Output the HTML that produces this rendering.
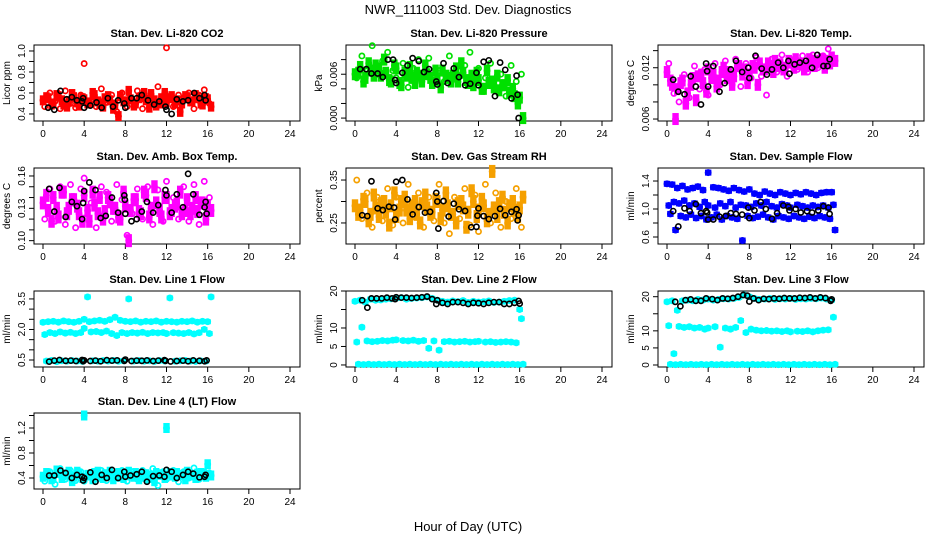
<!DOCTYPE html>
<html><head><meta charset="utf-8">
<style>
html,body{margin:0;padding:0;background:#fff;}
svg{display:block;font-family:"Liberation Sans",sans-serif;}
</style></head>
<body>
<svg id="chart" width="936" height="540" viewBox="0 0 936 540">
<text x="468" y="14" text-anchor="middle" font-size="13">NWR_111003  Std. Dev. Diagnostics</text>
<text x="468" y="531" text-anchor="middle" font-size="13">Hour of Day (UTC)</text>
</svg>
<script>
const hoursA = [0.0,0.5,1.0,1.5,2.0,2.5,3.0,3.5,4.0,4.5,5.0,5.5,6.0,6.5,7.0,7.5,8.0,8.5,9.0,9.5,10.0,10.5,11.0,11.5,12.0,12.5,13.0,13.5,14.0,14.5,15.0,15.5,16.0];
const hoursB = [0.17,0.67,1.17,1.67,2.17,2.67,3.17,3.67,4.0,4.67,5.17,5.67,6.17,6.67,7.17,7.67,8.17,8.67,9.17,9.67,10.17,10.67,11.17,11.67,12.0,12.67,13.17,13.67,14.17,14.67,15.17,15.67,16.17];
const hoursC = [0.33,0.83,1.33,1.83,2.33,2.83,3.33,3.83,4.33,4.83,5.33,5.83,6.33,6.83,7.33,7.83,8.33,8.83,9.33,9.83,10.33,10.83,11.33,11.83,12.33,12.83,13.33,13.83,14.33,14.83,15.33,15.83,16.33];
const xTicks = [0,4,8,12,16,20,24];

// CO2
const co2A = [.53,.55,.50,.57,.49,.52,.56,.48,.54,.51,.58,.50,.55,.53,.49,.57,.52,.54,.50,.56,.53,.59,.48,.55,.51,.57,.53,.50,.56,.52,.55,.49,.54];
const co2B = [.47,.60,.52,.45,.62,.50,.46,.58,.88,.53,.47,.64,.51,.58,.42,.60,.47,.52,.62,.45,.55,.50,.66,.52,1.03,.47,.58,.55,.60,.45,.58,.63,.50];
const co2C = [.56,.49,.58,.53,.47,.59,.51,.55,.50,.60,.52,.47,.57,.45,.38,.52,.62,.48,.55,.60,.46,.53,.50,.60,.55,.50,.42,.57,.52,.58,.50,.55,.47];
const co2BlkX = [.5,1.1,1.7,2.3,2.8,3.3,3.8,3.9,4.0,4.6,5.2,5.7,6.3,6.8,7.3,7.9,8.0,8.6,9.1,9.6,10.2,10.8,11.3,11.9,12.0,12.5,13.0,13.6,14.1,14.7,15.2,15.7,15.8];
const co2BlkY = [.46,.44,.62,.54,.56,.53,.52,.55,.46,.48,.51,.46,.55,.47,.53,.50,.46,.55,.55,.58,.53,.49,.52,.47,.44,.40,.54,.52,.53,.60,.55,.58,.53];
// Pressure
const presA = [.0060,.0070,.0055,.0065,.0072,.0058,.0062,.0050,.0068,.0045,.0058,.0055,.0062,.0050,.0060,.0048,.0052,.0065,.0055,.0058,.0050,.0062,.0048,.0045,.0052,.0040,.0048,.0042,.0038,.0045,.0035,.0030,.0028];
const presB = [.0055,.0085,.0065,.0099,.0060,.0078,.0090,.0065,.0055,.0075,.0042,.0068,.0080,.0060,.0082,.0055,.0065,.0050,.0085,.0062,.0058,.0072,.0090,.0050,.0068,.0055,.0075,.0042,.0060,.0030,.0072,.0050,.0060];
const presC = [.0062,.0050,.0075,.0058,.0068,.0080,.0052,.0072,.0048,.0062,.0070,.0048,.0058,.0072,.0055,.0065,.0042,.0058,.0050,.0068,.0075,.0052,.0058,.0062,.0040,.0065,.0050,.0058,.0045,.0052,.0040,.0020,.0000];
const presBlkX = [.5,1.1,1.6,2.2,2.7,3.2,3.7,3.9,4.0,4.6,5.1,5.6,6.2,6.7,7.2,7.9,8.0,8.6,9.0,9.6,10.1,10.7,11.2,11.8,12.0,12.5,13.0,13.6,14.1,14.6,15.2,15.7,15.8,15.9];
const presBlkY = [.0067,.0067,.0061,.0061,.0056,.0080,.0080,.0052,.0048,.0062,.0072,.0082,.0078,.0063,.0067,.0050,.0046,.0075,.0048,.0068,.0056,.0045,.0047,.0062,.0045,.0077,.0079,.0030,.0076,.0066,.0027,.0058,.0032,.0000];
// Li-820 temp
const ltA = [.0115,.0100,.0095,.0105,.0090,.0108,.0110,.0102,.0118,.0112,.0105,.0120,.0115,.0110,.0122,.0118,.0112,.0120,.0125,.0118,.0122,.0128,.0124,.0120,.0126,.0130,.0125,.0122,.0128,.0126,.0130,.0128,.0132];
const ltB = [.0125,.0090,.0080,.0112,.0085,.0122,.0095,.0118,.0088,.0125,.0100,.0128,.0105,.0130,.0098,.0125,.0108,.0132,.0110,.0088,.0130,.0115,.0135,.0110,.0130,.0118,.0134,.0115,.0135,.0120,.0134,.0142,.0125];
const ltC = [.0105,.0060,.0102,.0078,.0100,.0082,.0112,.0092,.0108,.0098,.0115,.0108,.0100,.0122,.0112,.0102,.0122,.0100,.0118,.0125,.0115,.0122,.0118,.0128,.0120,.0124,.0118,.0130,.0122,.0128,.0120,.0125,.0128];
const ltBlkX = [.6,1.1,1.7,2.3,2.8,3.3,3.8,3.9,4.0,4.5,5.1,5.6,6.2,6.7,7.3,7.9,8.0,8.6,9.2,9.7,10.2,10.8,11.3,11.8,11.9,12.4,12.9,13.5,14.1,14.6,15.2,15.6,15.8];
const ltBlkY = [.0106,.0092,.0089,.0110,.0098,.0077,.0125,.0116,.0098,.0122,.0092,.0102,.0118,.0128,.0115,.0120,.0108,.0134,.0119,.0112,.0118,.0126,.0120,.0128,.0113,.0124,.0126,.0128,.0120,.0135,.0122,.0122,.0130];
// Amb box temp
const abA = [.135,.128,.140,.122,.145,.130,.138,.125,.142,.118,.133,.140,.127,.136,.130,.120,.132,.128,.138,.125,.142,.130,.135,.122,.140,.128,.134,.125,.138,.130,.127,.135,.132];
const abB = [.120,.148,.118,.150,.115,.152,.112,.148,.158,.135,.112,.150,.145,.118,.152,.138,.105,.125,.148,.120,.150,.115,.147,.118,.155,.140,.120,.150,.118,.152,.115,.155,.140];
const abC = [.142,.118,.130,.145,.125,.138,.132,.118,.128,.145,.125,.120,.140,.130,.122,.145,.100,.138,.127,.145,.122,.150,.128,.140,.125,.132,.145,.128,.125,.140,.135,.120,.128];
const abBlkX = [.6,1.1,1.6,2.2,2.8,3.3,3.8,3.9,4.0,4.5,5.1,5.6,6.1,6.7,7.3,7.9,7.95,8.0,8.6,9.1,9.6,10.1,10.7,11.2,11.9,12.0,12.5,13.0,13.6,14.1,14.6,15.2,15.7,15.8,15.9];
const abBlkY = [.148,.127,.149,.122,.136,.132,.120,.135,.146,.154,.147,.121,.123,.140,.126,.142,.138,.125,.118,.120,.127,.136,.126,.133,.147,.142,.126,.143,.131,.162,.143,.124,.131,.136,.125];
// Gas stream RH
const rhA = [.290,.280,.300,.270,.285,.295,.275,.290,.265,.300,.280,.290,.270,.295,.285,.275,.300,.280,.290,.270,.295,.285,.275,.300,.280,.290,.270,.285,.295,.275,.290,.280,.285];
const rhB = [.350,.260,.320,.240,.310,.255,.330,.245,.310,.250,.340,.265,.320,.240,.310,.255,.340,.250,.225,.310,.260,.330,.245,.315,.230,.340,.250,.320,.240,.300,.260,.330,.240];
const rhC = [.270,.305,.255,.315,.265,.300,.245,.320,.280,.310,.260,.300,.250,.315,.270,.305,.260,.320,.270,.250,.300,.240,.325,.265,.305,.255,.370,.265,.310,.250,.300,.265,.310];
const rhBlkX = [.7,1.2,1.6,2.2,2.7,3.3,3.8,3.9,4.0,4.6,5.1,5.6,6.2,6.8,7.3,7.9,8.0,8.1,8.6,9.1,9.6,10.1,10.7,11.3,11.8,11.9,12.0,12.5,13.0,13.6,14.1,14.6,15.2,15.7,15.8,15.9];
const rhBlkY = [.268,.266,.347,.284,.280,.288,.286,.258,.346,.350,.305,.270,.287,.274,.276,.320,.300,.237,.301,.265,.295,.282,.278,.240,.241,.267,.284,.266,.259,.266,.283,.268,.276,.282,.256,.268];
// Sample flow
const sfA = [1.36,1.35,1.30,1.33,1.28,1.30,1.32,1.27,1.52,1.31,1.30,1.28,1.26,1.30,1.27,1.25,1.28,1.22,1.20,1.25,1.22,1.20,1.24,1.22,1.20,1.23,1.21,1.24,1.22,1.20,1.23,1.24,1.24];
const sfB = [1.05,1.10,1.08,1.12,1.05,1.08,1.03,1.10,1.05,1.02,1.08,1.04,1.10,1.02,1.06,1.05,1.03,1.08,1.05,1.10,1.04,1.02,1.07,1.05,1.02,1.06,1.04,1.02,1.05,1.03,1.05,1.02,1.06];
const sfC = [.93,.70,.90,.88,.92,.87,.90,.85,.88,.92,.85,.90,.88,.86,.55,.90,.87,.89,.92,.88,.85,.90,.88,.86,.90,.88,.86,.89,.87,.90,.88,.86,.70];
const sfBlkX = [.6,1.1,1.7,2.2,2.8,3.3,3.8,3.9,4.0,4.5,5.1,5.7,6.2,6.7,7.3,7.9,8.0,8.5,9.1,9.6,10.2,10.7,11.3,11.8,11.9,12.5,13.0,13.6,14.1,14.7,15.2,15.7,15.8];
const sfBlkY = [.97,.75,1.01,.97,1.07,.94,.97,.95,.85,.85,.89,.90,.94,.93,.92,1.02,.87,.98,1.10,1.00,.86,.94,1.05,1.03,.98,1.00,.95,.97,.95,.98,1.04,1.02,.93];
// Line 1
const l1A = [2.35,2.38,2.40,2.36,2.42,2.38,2.35,2.40,2.50,2.38,2.42,2.45,2.40,2.48,2.60,2.45,2.40,2.38,2.42,2.36,2.40,2.38,2.42,2.36,2.40,2.38,2.36,2.40,2.38,2.42,2.36,2.40,2.38];
const l1B = [1.75,1.85,1.80,1.88,1.82,1.86,1.80,1.85,2.05,1.88,1.90,1.85,1.92,1.80,1.70,1.85,1.80,1.85,1.82,1.86,1.80,1.85,1.83,1.85,1.80,1.84,1.82,1.80,1.85,1.78,1.84,2.00,1.80];
const l1C = [.45,.48,.42,.46,.44,.47,.45,.43,3.60,.46,.44,.47,.45,.48,.44,.46,3.50,.45,.47,.44,.46,.43,.47,.45,3.55,.44,.46,.48,.45,.43,.46,.44,3.60];
const l1BlkX = [.6,1.1,1.6,2.2,2.7,3.2,3.8,3.9,4.0,4.6,5.1,5.6,6.2,6.7,7.2,7.9,8.0,8.6,9.1,9.6,10.1,10.7,11.2,11.8,11.9,12.4,13.0,13.6,14.1,14.6,15.2,15.7,15.9];
const l1BlkY = [.42,.47,.50,.46,.47,.45,.50,.44,.48,.45,.47,.44,.49,.47,.48,.46,.52,.45,.47,.46,.48,.45,.47,.49,.46,.43,.45,.47,.44,.48,.46,.44,.48];
// Line 2
const l2A = [17.2,17.5,17.0,17.8,17.5,17.6,17.8,17.9,18.0,18.2,17.8,18.0,18.1,18.2,18.4,18.0,17.5,17.2,17.0,17.3,17.1,17.4,16.9,17.2,17.0,17.1,17.3,16.9,17.0,17.2,17.4,17.5,15.0];
const l2B = [6.2,10.2,6.5,6.3,6.4,6.6,6.5,6.7,6.8,6.6,6.5,6.7,6.4,6.6,4.5,6.5,4.0,6.3,6.4,6.2,6.3,6.4,6.2,6.3,6.4,6.2,6.3,6.1,6.2,6.3,6.2,6.0,12.5];
const l2C = [.2,.1,.2,.1,.2,.1,.2,.1,.2,.1,.2,.1,.2,.1,.2,.1,.2,.1,.2,.1,.2,.1,.2,.1,.2,.1,.2,.1,.2,.1,.2,.1,.2];
const l2BlkX = [.7,1.2,1.6,2.1,2.6,3.1,3.6,3.9,4.0,4.5,5.0,5.5,6.0,6.5,7.0,7.5,7.9,8.0,8.5,9.0,9.5,10.0,10.5,11.0,11.5,12.0,12.5,13.0,13.5,14.0,14.5,15.0,15.5,15.9,16.0];
const l2BlkY = [17.5,15.5,18.0,18.0,18.0,18.2,18.0,17.8,18.3,18.2,18.2,18.1,18.2,18.3,18.5,17.8,16.5,17.5,16.8,16.5,17.0,17.0,16.8,16.5,16.8,16.7,16.5,16.8,17.0,17.0,16.5,16.5,16.8,17.3,16.6];
// Line 3
const l3A = [18.5,18.8,16.0,18.8,19.0,18.8,19.2,19.0,19.3,19.0,19.2,19.4,19.3,19.5,19.8,20.5,20.0,19.5,19.2,19.3,19.5,19.2,19.4,19.3,19.5,19.2,19.4,19.3,19.5,19.4,19.6,19.3,19.0];
const l3B = [11.5,3.3,11.3,11.0,11.2,10.8,11.0,10.5,10.8,11.2,5.2,10.8,10.5,11.0,13.0,9.5,10.5,10.2,10.0,10.1,9.9,10.0,9.8,10.0,9.7,9.9,9.8,10.0,9.7,10.0,10.2,10.3,14.0];
const l3C = [.2,.1,.2,.1,.2,.1,.2,.1,.2,.1,.2,.1,.2,.1,.2,.1,.2,.1,.2,.1,.2,.1,.2,.1,.2,.1,.2,.1,.2,.1,.2,.1,.2];
const l3BlkX = [.8,1.3,1.8,2.3,2.8,3.3,3.8,4.4,4.9,5.4,5.9,6.4,6.9,7.4,7.8,8.0,8.4,8.9,9.4,9.9,10.4,10.9,11.4,11.9,12.4,12.9,13.4,13.9,14.4,14.9,15.4,15.9,16.0];
const l3BlkY = [18.5,17.2,19.0,19.2,18.8,18.8,19.5,19.3,19.0,19.5,19.4,19.6,20.0,20.5,20.3,18.6,19.5,19.0,19.4,19.3,19.5,19.4,19.6,19.5,19.5,19.7,19.6,19.8,19.5,19.8,19.6,18.8,19.2];
// Line 4
const l4A = [.42,.45,.40,.48,.44,.50,.42,.46,1.40,.44,.48,.42,.46,.50,.44,.42,.47,.44,.48,.42,.46,.44,.48,.46,1.20,.44,.48,.45,.50,.44,.47,.45,.62];
const l4B = [.35,.50,.30,.55,.38,.52,.36,.50,.35,.48,.38,.52,.36,.48,.40,.52,.35,.50,.38,.52,.36,.55,.28,.50,.38,.52,.34,.50,.40,.56,.38,.50,.48];
const l4C = [.48,.38,.52,.40,.46,.35,.50,.40,.45,.38,.50,.40,.45,.38,.48,.40,.50,.42,.38,.46,.40,.35,.45,.40,.48,.42,.45,.38,.44,.40,.48,.42,.44];
const l4BlkX = [.6,1.1,1.7,2.2,2.8,3.3,3.8,3.9,4.0,4.6,5.1,5.7,6.2,6.7,7.3,7.9,8.0,8.5,9.1,9.6,10.1,10.7,11.3,11.8,12.0,12.5,13.0,13.6,14.1,14.6,15.2,15.7,15.8];
const l4BlkY = [.44,.44,.52,.48,.40,.45,.42,.36,.40,.49,.34,.45,.40,.53,.40,.50,.42,.44,.46,.50,.34,.43,.44,.42,.53,.50,.40,.45,.50,.47,.41,.42,.45];

const panels = [
 {name:'co2',title:'Stan. Dev. Li-820 CO2',ylab:'Licor ppm',col:0,row:0,ylim:[0.333,1.057],color:'#ff0000',series:[co2A,co2B,co2C],band:[0,2],bandH:10,bx:co2BlkX,by:co2BlkY,ticks:[.4,.5,.6,.7,.8,.9,1.0],labels:[.4,.6,.8,1.0],dec:1},
 {name:'pressure',title:'Stan. Dev. Li-820 Pressure',ylab:'kPa',col:1,row:0,ylim:[-0.0004,0.0100],color:'#00e000',series:[presA,presB,presC],band:[0,2],bandH:12,bx:presBlkX,by:presBlkY,ticks:[0,.002,.004,.006,.008],labels:[0,.006],dec:3},
 {name:'li-temp',title:'Stan. Dev. Li-820 Temp.',ylab:'degrees C',col:2,row:0,ylim:[0.00577,0.01466],color:'#ff00ff',series:[ltA,ltB,ltC],band:[0,2],bandH:12,bx:ltBlkX,by:ltBlkY,ticks:[.006,.008,.010,.012,.014],labels:[.006,.012],dec:3},
 {name:'amb-temp',title:'Stan. Dev. Amb. Box Temp.',ylab:'degrees C',col:0,row:1,ylim:[0.0969,0.1674],color:'#ff00ff',series:[abA,abB,abC],band:[0,2],bandH:13,bx:abBlkX,by:abBlkY,ticks:[.10,.11,.12,.13,.14,.15,.16],labels:[.10,.13,.16],dec:2},
 {name:'gas-rh',title:'Stan. Dev. Gas Stream RH',ylab:'percent',col:1,row:1,ylim:[0.201,0.378],color:'#f5a000',series:[rhA,rhB,rhC],band:[0,2],bandH:13,bx:rhBlkX,by:rhBlkY,ticks:[.25,.30,.35],labels:[.25,.35],dec:2},
 {name:'sample-flow',title:'Stan. Dev. Sample Flow',ylab:'ml/min',col:2,row:1,ylim:[0.50,1.586],color:'#0000ff',series:[sfA,sfB,sfC],band:[0,1,2],bandH:6,bx:sfBlkX,by:sfBlkY,ticks:[.6,.8,1.0,1.2,1.4],labels:[.6,1.0,1.4],dec:1},
 {name:'line1-flow',title:'Stan. Dev. Line 1 Flow',ylab:'ml/min',col:0,row:2,ylim:[0.156,3.89],color:'#00ffff',series:[l1A,l1B,l1C],band:[0,1,2],bandH:5,bx:l1BlkX,by:l1BlkY,ticks:[.5,1.0,1.5,2.0,2.5,3.0,3.5],labels:[.5,2.0,3.5],dec:1},
 {name:'line2-flow',title:'Stan. Dev. Line 2 Flow',ylab:'ml/min',col:1,row:2,ylim:[-0.55,20],color:'#00ffff',series:[l2A,l2B,l2C],band:[0,1,2],bandH:5,bx:l2BlkX,by:l2BlkY,ticks:[0,5,10,15,20],labels:[0,5,10,20],dec:0},
 {name:'line3-flow',title:'Stan. Dev. Line 3 Flow',ylab:'ml/min',col:2,row:2,ylim:[-0.59,21.67],color:'#00ffff',series:[l3A,l3B,l3C],band:[0,1,2],bandH:5,bx:l3BlkX,by:l3BlkY,ticks:[0,5,10,15,20],labels:[0,5,10,20],dec:0},
 {name:'line4-flow',title:'Stan. Dev. Line 4 (LT) Flow',ylab:'ml/min',col:0,row:3,ylim:[0.224,1.44],color:'#00ffff',series:[l4A,l4B,l4C],band:[0,2],bandH:10,bx:l4BlkX,by:l4BlkY,ticks:[.4,.6,.8,1.0,1.2,1.4],labels:[.4,.8,1.2],dec:1}
];
const hourSets = [hoursA, hoursB, hoursC];

const NS = 'http://www.w3.org/2000/svg';
const svg = document.getElementById('chart');
function mk(tag, attrs, parent){
  const e = document.createElementNS(NS, tag);
  for (const k in attrs) e.setAttribute(k, attrs[k]);
  (parent||svg).appendChild(e);
  return e;
}
panels.forEach(p => {
  const left = 34 + 312*p.col, w = 266;
  const top = [45,168,291,413][p.row], h = 76;
  const bottom = top + h;
  const xS = v => 43 + 312*p.col + v*(247/24);
  const yS = v => bottom - (v - p.ylim[0])/(p.ylim[1]-p.ylim[0])*h;
  const g = mk('g', {});
  
  
  const t = mk('text', {x: left + w/2, y: top - 8, 'text-anchor':'middle', 'font-size':'11', 'font-weight':'bold'}, g);
  t.textContent = p.title;
  
  
  const box = mk('rect', {x:left, y:top, width:w, height:h, fill:'none', stroke:'#000', 'stroke-width':1}, g);
  
  
  const xa = mk('g', {}, g);
  
  
  mk('line', {x1:xS(0), x2:xS(24), y1:bottom, y2:bottom, stroke:'#000'}, xa);
  xTicks.forEach(v => {
    mk('line', {x1:xS(v), x2:xS(v), y1:bottom, y2:bottom+5, stroke:'#000'}, xa);
    const tl = mk('text', {x:xS(v), y:bottom+16, 'text-anchor':'middle', 'font-size':'10'}, xa);
    tl.textContent = v;
    
    
  });
  const ya = mk('g', {}, g);
  
  
  mk('line', {x1:left, x2:left, y1:yS(p.ticks[0]), y2:yS(p.ticks[p.ticks.length-1]), stroke:'#000'}, ya);
  p.ticks.forEach(v => mk('line', {x1:left-5, x2:left, y1:yS(v), y2:yS(v), stroke:'#000'}, ya));
  p.labels.forEach(v => {
    const x = left - 9, y = yS(v);
    const tl = mk('text', {x:x, y:y, 'text-anchor':'middle', 'font-size':'10', transform:`rotate(-90 ${x} ${y})`}, ya);
    tl.textContent = v.toFixed(p.dec);
    
    
  });
  const yx = left - 24, yy = top + h/2;
  const yt = mk('text', {x:yx, y:yy, 'text-anchor':'middle', 'font-size':'10', transform:`rotate(-90 ${yx} ${yy})`}, g);
  yt.textContent = p.ylab;
  
  
  // dense background band per data value
  const dg = mk('g', {fill:p.color}, g);
  
  
  p.band.forEach(si => {
    p.series[si].forEach((v, i) => {
      const cx = xS(hourSets[si][i]);
      const r = mk('rect', {x:cx-3.2, y:yS(v)-p.bandH/2, width:6.4, height:p.bandH}, dg);
      
      
    });
  });
  const cg = mk('g', {fill:'none', stroke:p.color, 'stroke-width':1.7}, g);
  
  
  p.series.forEach((arr, si) => {
    arr.forEach((v, i) => {
      const c = mk('circle', {cx:xS(hourSets[si][i]), cy:yS(v), r:2.6}, cg);
      
      
    });
  });
  const bg = mk('g', {fill:'none', stroke:'#000', 'stroke-width':1.6}, g);
  
  
  p.bx.forEach((xv, i) => {
    const c = mk('circle', {cx:xS(xv), cy:yS(p.by[i]), r:2.6}, bg);
    
    
  });
});
</script>
</body></html>
